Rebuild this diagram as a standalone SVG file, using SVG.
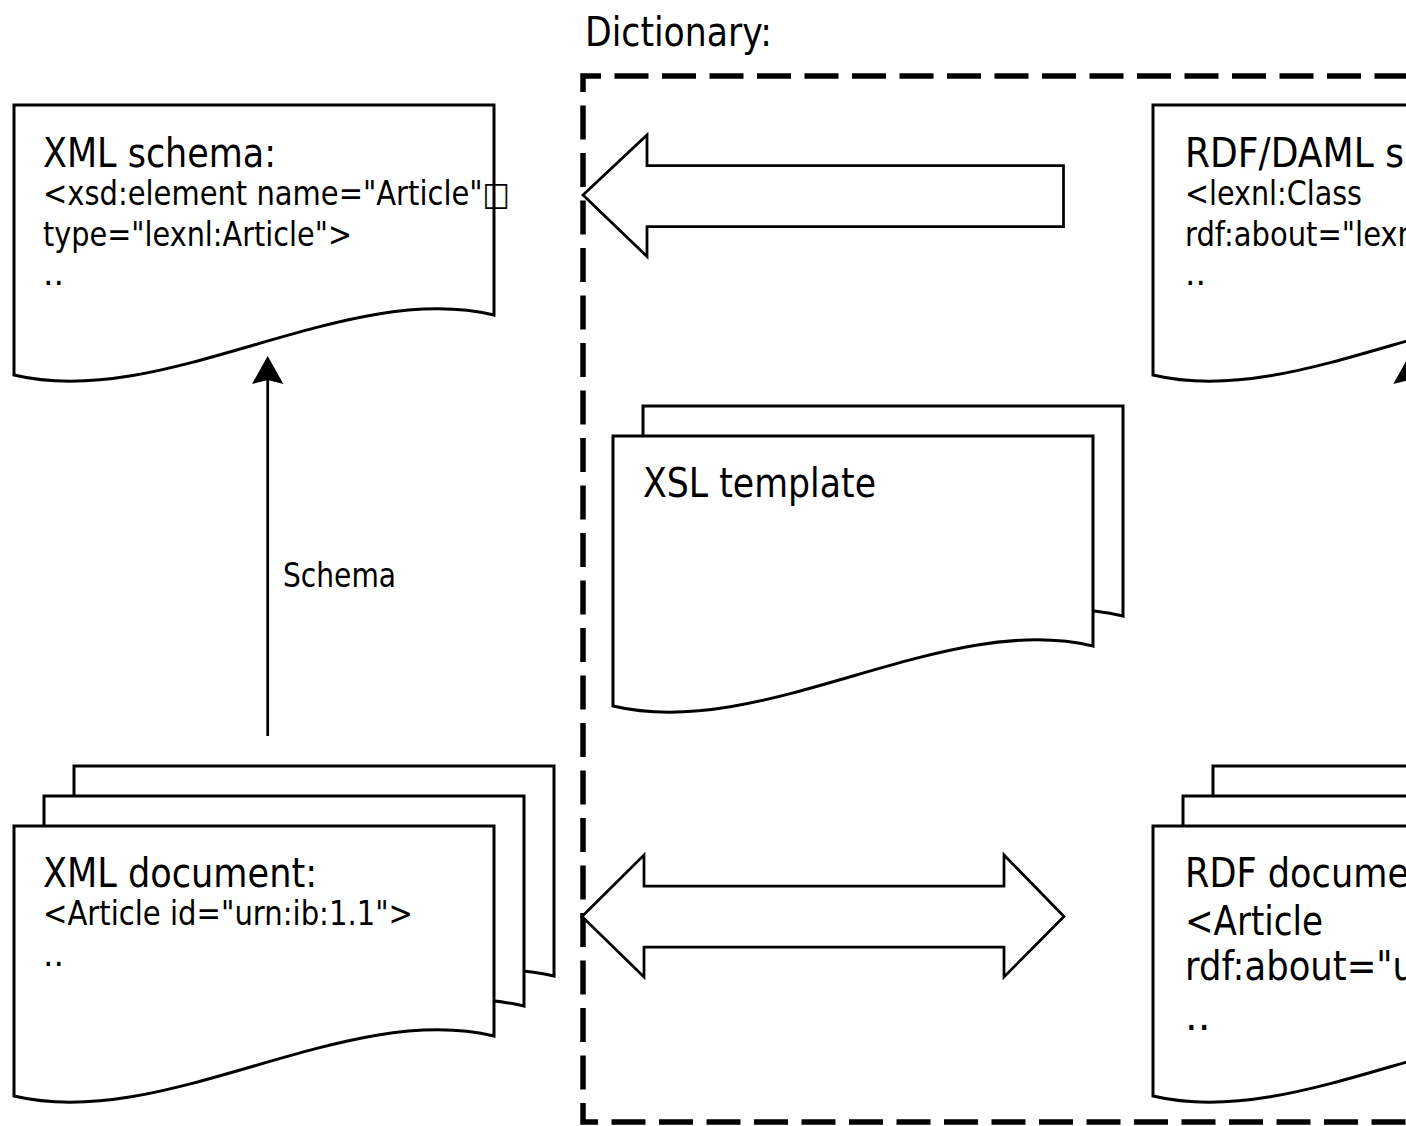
<svg xmlns="http://www.w3.org/2000/svg" width="1406" height="1126" viewBox="0 0 1406 1126">
  <defs>
    <!-- document sheet with wavy bottom edge, 480 wide -->
    <path id="doc" d="M0,0 H480 V210 C330,174 150,306 0,270 Z"/>
    <marker id="head" markerUnits="userSpaceOnUse" viewBox="0 -17 30 34" markerWidth="30" markerHeight="34" refX="4" refY="0" orient="auto" overflow="visible">
      <path d="M0,-15.7 L28,0 L0,15.7 L4,0 Z" fill="#000"/>
    </marker>
  </defs>
  <style>
    .sheet { fill: #fff; stroke: #000; stroke-width: 3; }
    .title { font-family: "DejaVu Sans", Verdana, sans-serif; font-size: 40px; fill: #000; }
    .code { font-family: "DejaVu Sans", Verdana, sans-serif; font-size: 33px; fill: #000; }
    .frame { fill: none; stroke: #000; stroke-width: 5.5; stroke-dasharray: 34 13.5; stroke-dashoffset: 6; stroke-linejoin: miter; }
    .block { fill: #fff; stroke: #000; stroke-width: 2.75; stroke-linejoin: miter; }
    .link { fill: none; stroke: #000; stroke-width: 2.75; marker-end: url(#head); }
  </style>

  <rect width="1406" height="1126" fill="#fff"/>

  <!-- dictionary boundary -->
  <g id="dictionary">
    <text class="title" x="585" y="46" textLength="187" lengthAdjust="spacingAndGlyphs">Dictionary:</text>
    <path class="frame" d="M1450,76 H583 V1122 H1450"/>
  </g>

  <!-- XML schema -->
  <g id="xml-schema">
    <use href="#doc" class="sheet" x="14" y="105"/>
    <text class="title" x="43" y="167" textLength="233" lengthAdjust="spacingAndGlyphs">XML schema:</text>
    <text class="code" x="43" y="205" textLength="467" lengthAdjust="spacingAndGlyphs">&lt;xsd:element name="Article"□</text>
    <text class="code" x="43" y="246" textLength="309" lengthAdjust="spacingAndGlyphs">type="lexnl:Article"&gt;</text>
    <text class="code" x="43" y="285">..</text>
  </g>

  <!-- RDF/DAML schema -->
  <g id="rdf-schema">
    <use href="#doc" class="sheet" x="1153" y="105"/>
    <text class="title" x="1185" y="167" textLength="219" lengthAdjust="spacingAndGlyphs">RDF/DAML s</text>
    <text class="code" x="1185" y="205" textLength="177" lengthAdjust="spacingAndGlyphs">&lt;lexnl:Class</text>
    <text class="code" x="1185" y="246" textLength="231" lengthAdjust="spacingAndGlyphs">rdf:about="lexn</text>
    <text class="code" x="1185" y="285">..</text>
  </g>

  <!-- XSL template (two sheets) -->
  <g id="xsl-template">
    <use href="#doc" class="sheet" x="643" y="406"/>
    <use href="#doc" class="sheet" x="613" y="436"/>
    <text class="title" x="643" y="497" textLength="233" lengthAdjust="spacingAndGlyphs">XSL template</text>
  </g>

  <!-- XML document (stack of three) -->
  <g id="xml-document">
    <use href="#doc" class="sheet" x="74" y="766"/>
    <use href="#doc" class="sheet" x="44" y="796"/>
    <use href="#doc" class="sheet" x="14" y="826"/>
    <text class="title" x="43" y="887" textLength="274" lengthAdjust="spacingAndGlyphs">XML document:</text>
    <text class="code" x="43" y="925" textLength="370" lengthAdjust="spacingAndGlyphs">&lt;Article id="urn:ib:1.1"&gt;</text>
    <text class="code" x="43" y="966">..</text>
  </g>

  <!-- RDF document (stack of three) -->
  <g id="rdf-document">
    <use href="#doc" class="sheet" x="1213" y="766"/>
    <use href="#doc" class="sheet" x="1183" y="796"/>
    <use href="#doc" class="sheet" x="1153" y="826"/>
    <text class="title" x="1185" y="887" textLength="224" lengthAdjust="spacingAndGlyphs">RDF docume</text>
    <text class="title" x="1185" y="935" textLength="138" lengthAdjust="spacingAndGlyphs">&lt;Article</text>
    <text class="title" x="1185" y="980" textLength="230" lengthAdjust="spacingAndGlyphs">rdf:about="u</text>
    <text class="title" x="1185" y="1030">..</text>
  </g>

  <!-- connectors -->
  <g id="connectors">
    <path class="block" d="M583,195 L647,135 V165.5 H1063.5 V226.5 H647 V256.5 Z"/>
    <path class="block" d="M582,916.5 L644,855 V886 H1004 V855 L1064,916.5 L1004,977 V947 H644 V977 Z"/>
    <line class="link" x1="267.7" y1="736" x2="267.7" y2="380"/>
    <text class="code" x="283" y="587" textLength="113" lengthAdjust="spacingAndGlyphs">Schema</text>
    <line class="link" x1="1409" y1="736" x2="1409" y2="380"/>
  </g>
</svg>
